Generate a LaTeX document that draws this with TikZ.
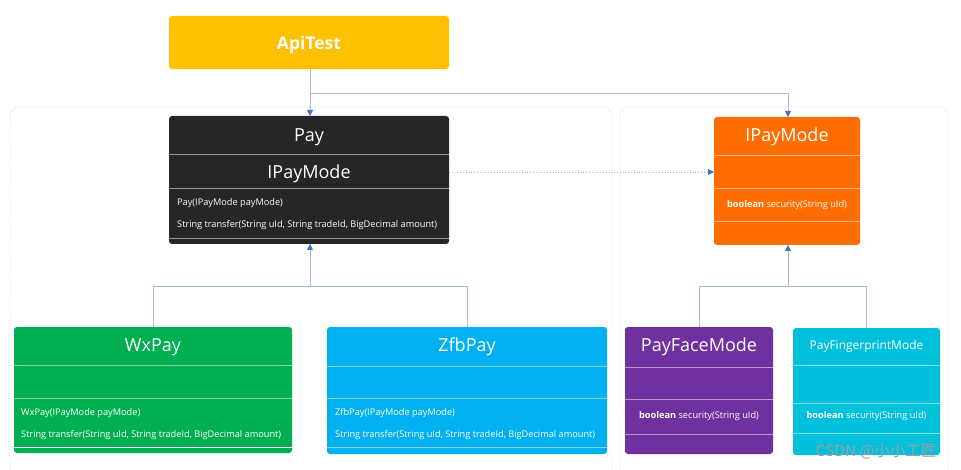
\documentclass[tikz,border=0pt]{standalone}
\usepackage{fontspec}
\setmainfont{Open Sans}
\newfontfamily\cjk{Noto Sans CJK SC}
\usetikzlibrary{arrows.meta}
\definecolor{cApi}{HTML}{FFC000}
\definecolor{cPay}{HTML}{262626}
\definecolor{cIpm}{HTML}{FF6D00}
\definecolor{cWx}{HTML}{00B050}
\definecolor{cZfb}{HTML}{00B0F0}
\definecolor{cFace}{HTML}{7030A0}
\definecolor{cFinger}{HTML}{00C0DC}
\definecolor{cLine}{HTML}{A9BCE2}
\definecolor{cTip}{HTML}{4472C4}
\definecolor{cCont}{HTML}{D4D4D4}
\tikzset{
  x=1pt, y=-1pt,
  box/.style={rounded corners=3pt, draw=none, inner sep=0pt, outer sep=0pt},
  title/.style={text=white, font=\fontsize{18}{20}\selectfont, inner sep=0pt, anchor=base},
  meth/.style={text=white, font=\fontsize{9.2}{11}\selectfont, inner sep=0pt, anchor=base},
  methl/.style={meth, anchor=base west},
  div/.style={draw=white, draw opacity=0.5, line width=1pt},
  conn/.style={draw=cLine, line width=0.8pt},
  tip/.style={-{Triangle[width=6pt,length=6pt,color=cTip]}},
  cont/.style={draw=cCont, dotted, line width=0.8pt, rounded corners=9pt}
}
\begin{document}
\begin{tikzpicture}
\useasboundingbox[fill=white] (0,0) rectangle (961,470);
% containers
\draw[cont] (10,107) rectangle (612,490);
\draw[cont] (620,107) rectangle (948,490);

% boxes
\node[box, fill=cApi, minimum width=280pt, minimum height=53pt] (api) at (309,42.5) {};
\node[text=white, font=\fontsize{17.5}{20}\selectfont\bfseries, inner sep=0pt, anchor=base] (apit) at (309,50) {ApiTest};

\node[box, fill=cPay, minimum width=280pt, minimum height=128pt] (pay) at (309,180) {};
\node[title] (payt) at (309,141.5) {Pay};
\node[title] (payt2) at (309,179) {IPayMode};
\node[methl] (paym1) at (177,206) {Pay(IPayMode payMode)};
\node[methl] (paym2) at (177,228) {String transfer(String uId, String tradeId, BigDecimal amount)};
\draw[div, draw=gray!80!white, draw opacity=1] (pay.west |- 0,155) -- (pay.east |- 0,155);
\draw[div, draw=gray!80!white, draw opacity=1] (pay.west |- 0,189) -- (pay.east |- 0,189);
\draw[div, draw=gray!80!white, draw opacity=1] (pay.west |- 0,239) -- (pay.east |- 0,239);

\node[box, fill=cIpm, minimum width=146pt, minimum height=128pt] (ipm) at (787,181) {};
\node[title] (ipmt) at (787,142) {IPayMode};
\node[meth] (ipmm) at (787,208) {\textbf{boolean} security(String uId)};
\draw[div] (ipm.west |- 0,156) -- (ipm.east |- 0,156);
\draw[div] (ipm.west |- 0,189) -- (ipm.east |- 0,189);
\draw[div] (ipm.west |- 0,222) -- (ipm.east |- 0,222);

\node[box, fill=cWx, minimum width=278pt, minimum height=126pt] (wx) at (153,390) {};
\node[title] (wxt) at (153,351.5) {WxPay};
\node[methl] (wxm1) at (21,415) {WxPay(IPayMode payMode)};
\node[methl] (wxm2) at (21,437) {String transfer(String uId, String tradeId, BigDecimal amount)};
\draw[div] (wx.west |- 0,365) -- (wx.east |- 0,365);
\draw[div] (wx.west |- 0,398) -- (wx.east |- 0,398);
\draw[div, draw opacity=1] (wx.west |- 0,447) -- (wx.east |- 0,447);

\node[box, fill=cZfb, minimum width=280pt, minimum height=127pt] (zfb) at (467,390.5) {};
\node[title] (zfbt) at (467,352) {ZfbPay};
\node[methl] (zfbm1) at (335,415) {ZfbPay(IPayMode payMode)};
\node[methl] (zfbm2) at (335,437) {String transfer(String uId, String tradeId, BigDecimal amount)};
\draw[div] (zfb.west |- 0,366) -- (zfb.east |- 0,366);
\draw[div] (zfb.west |- 0,398) -- (zfb.east |- 0,398);
\draw[div] (zfb.west |- 0,447) -- (zfb.east |- 0,447);

\node[box, fill=cFace, minimum width=148pt, minimum height=127pt] (face) at (699,390.5) {};
\node[title] (facet) at (699,351) {PayFaceMode};
\node[meth] (facem) at (699,418) {\textbf{boolean} security(String uId)};
\draw[div] (face.west |- 0,367) -- (face.east |- 0,367);
\draw[div] (face.west |- 0,399) -- (face.east |- 0,399);
\draw[div] (face.west |- 0,434) -- (face.east |- 0,434);

\node[box, fill=cFinger, minimum width=147pt, minimum height=127pt] (finger) at (866.5,391.5) {};
\node[title, font=\fontsize{12}{14}\selectfont] (fingert) at (866.5,349) {PayFingerprintMode};
\node[meth] (fingerm) at (866.5,418) {\textbf{boolean} security(String uId)};
\draw[div] (finger.west |- 0,365) -- (finger.east |- 0,365);
\draw[div] (finger.west |- 0,403) -- (finger.east |- 0,403);
\draw[div] (finger.west |- 0,433) -- (finger.east |- 0,433);

% connectors
\coordinate (j1) at (310,93);
\coordinate (j2) at (310,286);
\coordinate (j3) at (788,286);
\draw[conn, tip] (api.south -| j1) -- (pay.north -| j1);
\draw[conn, tip] (j1) -| (ipm.north -| j3);
\draw[conn, dotted, tip] (pay.east |- 0,172) -- (ipm.west |- 0,172);
\draw[conn] (wx.north) |- (zfb.north |- j2) -- (zfb.north);
\draw[conn, tip] (j2) -- (pay.south -| j2);
\draw[conn] (face.north) |- (finger.north |- j3) -- (finger.north);
\draw[conn, tip] (j3) -- (ipm.south -| j3);

% watermark
\node[text=gray!75, font=\cjk\fontsize{15.5}{17}\selectfont, inner sep=0pt, anchor=base] (wm) at (876,456) {CSDN @小小工匠};
\end{tikzpicture}
\end{document}
